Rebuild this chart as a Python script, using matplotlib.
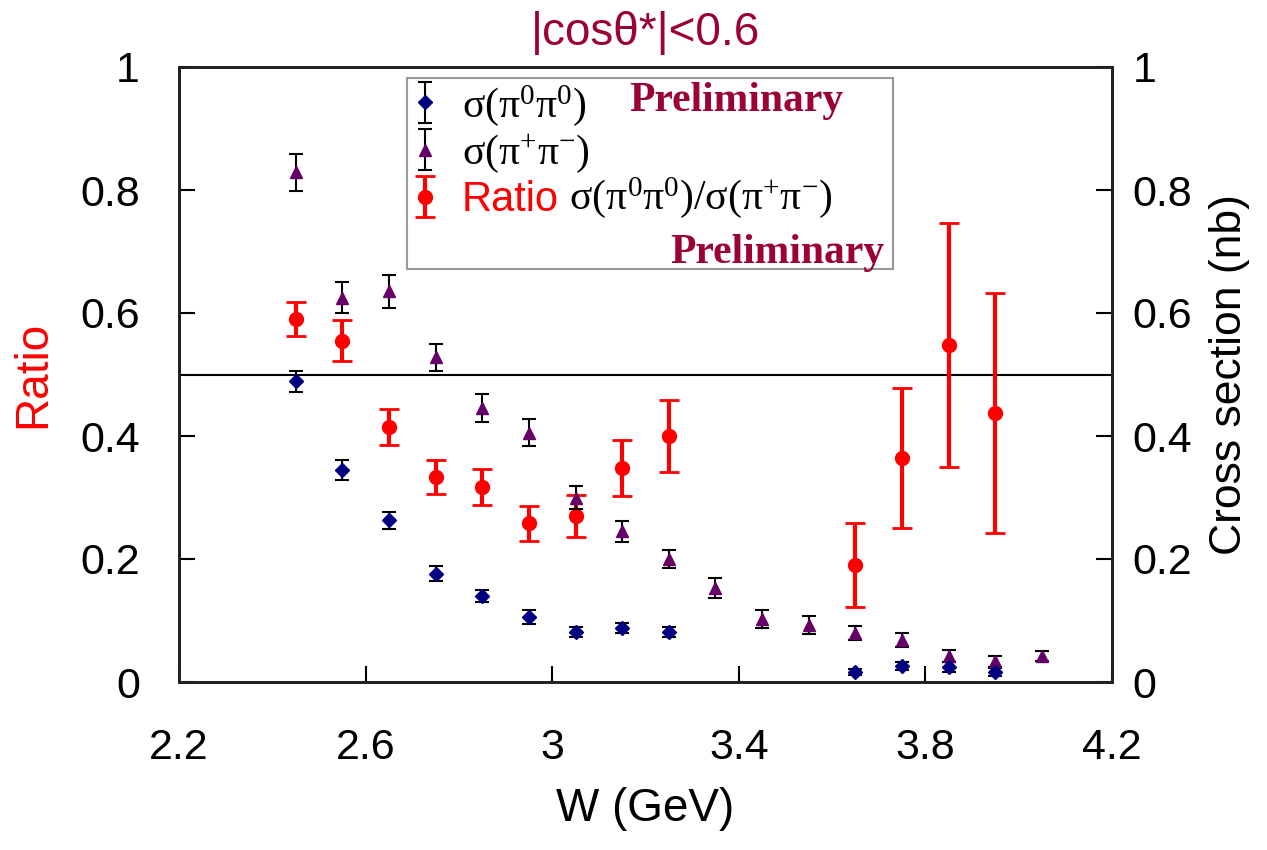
import matplotlib
matplotlib.use('Agg')
import matplotlib.pyplot as plt
from matplotlib.ticker import FuncFormatter
import numpy as np

plt.rcParams['font.family'] = ['Liberation Sans', 'DejaVu Sans']
plt.rcParams['mathtext.default'] = 'regular'

# W bins (GeV)
w_ratio = [2.45, 2.55, 2.65, 2.75, 2.85, 2.95, 3.05, 3.15, 3.25, 3.65, 3.75, 3.85, 3.95]
ratio = [0.590, 0.555, 0.415, 0.333, 0.317, 0.258, 0.270, 0.348, 0.400, 0.190, 0.364, 0.548, 0.437]
ratio_err = [0.028, 0.033, 0.029, 0.028, 0.030, 0.028, 0.034, 0.046, 0.058, 0.068, 0.114, 0.198, 0.195]

w_neu = [2.45, 2.55, 2.65, 2.75, 2.85, 2.95, 3.05, 3.15, 3.25, 3.65, 3.75, 3.85, 3.95]
sig_neu = [0.489, 0.345, 0.263, 0.176, 0.140, 0.106, 0.081, 0.088, 0.081, 0.016, 0.026, 0.025, 0.016]
sig_neu_err = [0.017, 0.016, 0.014, 0.012, 0.010, 0.011, 0.008, 0.008, 0.008, 0.005, 0.007, 0.008, 0.006]

w_ch = [2.45, 2.55, 2.65, 2.75, 2.85, 2.95, 3.05, 3.15, 3.25, 3.35, 3.45, 3.55, 3.65, 3.75, 3.85, 3.95, 4.05]
sig_ch = [0.829, 0.625, 0.635, 0.528, 0.446, 0.405, 0.300, 0.245, 0.200, 0.153, 0.102, 0.093, 0.080, 0.068, 0.042, 0.034, 0.042]
sig_ch_err = [0.030, 0.025, 0.027, 0.022, 0.023, 0.022, 0.018, 0.017, 0.015, 0.016, 0.015, 0.015, 0.011, 0.011, 0.010, 0.009, 0.008]

xticks = [2.2, 2.6, 3.0, 3.4, 3.8, 4.2]
yticks = [0, 0.2, 0.4, 0.6, 0.8, 1.0]

maroon = '#9B0037'
lab_neu = '\u03c3(\u03c0$^{0}$\u03c0$^{0}$)'
lab_ch = '\u03c3(\u03c0$^{+}$\u03c0$^{-}$)'

fig = plt.figure(figsize=(12.67, 8.5), dpi=100)
ax = fig.add_axes([179/1267, 1-682/850, (1112-179)/1267, 615/850])
ax2 = ax.twinx()

fmt = FuncFormatter(lambda v, p: '%g' % v)
for a in (ax, ax2):
    a.set_xlim(2.2, 4.2)
    a.set_ylim(0, 1)
    a.set_yticks(yticks)
    a.yaxis.set_major_formatter(fmt)
    for s in a.spines.values():
        s.set_linewidth(2)
        s.set_color('#222222')
ax.set_xticks(xticks)
ax.xaxis.set_major_formatter(fmt)
ax.tick_params(axis='both', direction='in', length=11.5, width=1.5, labelsize=31)
ax.tick_params(axis='y', pad=28)
ax.tick_params(axis='x', pad=33)
ax2.tick_params(axis='y', direction='in', length=11.5, width=1.5, labelsize=31, pad=15)

ax.axhline(0.5, color='black', lw=1.5, zorder=1)

h_red = ax.errorbar(w_ratio, ratio, yerr=ratio_err, fmt='o', color='#ff0000', ms=10,
                    ecolor='#ff0000', elinewidth=3, capsize=7, capthick=2, zorder=3)
h_ch = ax2.errorbar(w_ch, sig_ch, yerr=sig_ch_err, fmt='^', color='#660066', ms=8.5,
                    ecolor='black', elinewidth=1.5, capsize=5, capthick=1.5, zorder=3)
h_neu = ax2.errorbar(w_neu, sig_neu, yerr=sig_neu_err, fmt='D', color='#000080', ms=7,
                     ecolor='black', elinewidth=1.5, capsize=5, capthick=1.5, zorder=3)

ax.set_xlabel('W (GeV)', fontsize=33, labelpad=14)
ax.set_ylabel('Ratio', fontsize=33, color='#ff0000', labelpad=18)
ax2.set_ylabel('Cross section (nb)', fontsize=32, labelpad=12)
ax.set_title('|cos\u03b8*|<0.6', fontsize=33, color=maroon, pad=16)

blank = plt.Line2D([], [], color='none')
leg = ax2.legend([h_neu, h_ch, h_red, blank],
                 [lab_neu, lab_ch, 'Ratio', ' '],
                 loc='upper left', bbox_to_anchor=(0.2444, 0.5, 0.521, 0.482), mode='expand',
                 borderaxespad=0, fancybox=False, frameon=True, edgecolor='#808080',
                 handlelength=0.6, handletextpad=0.6, labelspacing=0.12,
                 borderpad=0.12, prop={'family': 'Liberation Serif', 'size': 30})
leg.get_frame().set_linewidth(1.5)
txts = leg.get_texts()
txts[2].set_color('#ff0000')
txts[2].set_fontfamily('Liberation Sans')
ax2.annotate(' ' + lab_neu + '/' + lab_ch, xy=(1, 0), xycoords=txts[2],
             ha='left', va='bottom', fontsize=30, family='Liberation Serif', zorder=10)

ax2.text(0.483, 0.945, 'Preliminary', transform=ax2.transAxes, ha='left', va='center',
         fontsize=30, family='Liberation Serif', weight='bold', color=maroon, zorder=10)
ax2.text(0.526, 0.698, 'Preliminary', transform=ax2.transAxes, ha='left', va='center',
         fontsize=30, family='Liberation Serif', weight='bold', color=maroon, zorder=10)

fig.savefig('out.png', dpi=100)
